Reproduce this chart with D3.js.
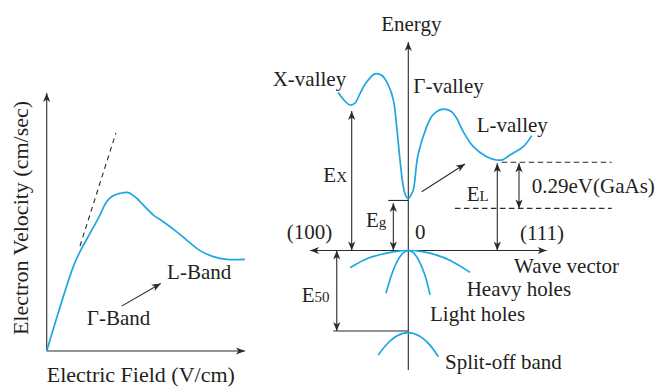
<!DOCTYPE html>
<html>
<head>
<meta charset="utf-8">
<script src="https://cdn.jsdelivr.net/npm/d3@7"></script>
<style>
  html, body { margin: 0; padding: 0; background: #fff; }
  svg { display: block; }
</style>
</head>
<body>
<svg id="chart" width="656" height="389" font-family="'Liberation Serif', 'DejaVu Serif', serif"></svg>
<script>
// ---------- Left panel: drift velocity vs. electric field (schematic units) ----------
const fieldVelocity = [
  [0, 0], [1.34, 3.27], [1.68, 3.85], [2.18, 4.56], [2.60, 5.14], [3.03, 5.79],
  [3.29, 5.99], [3.69, 6.11], [4.11, 6.14], [4.54, 5.92], [4.79, 5.72], [5.38, 5.27],
  [5.88, 5.01], [6.56, 4.62], [7.06, 4.30], [7.73, 3.89], [8.40, 3.66], [9.08, 3.55], [10, 3.55]
];
const lowFieldTangent = [[1.68, 4.07], [3.49, 8.45]];
const gammaToLArrow = [[3.78, 1.74], [5.75, 2.62]];
const fieldDomain = [0, 10];
const velocityDomain = [0, 10];
const leftLabels = [
  { text: "Γ-Band", x: 2.02, y: 1.01 },
  { text: "L-Band", x: 6.07, y: 2.79 }
];

// ---------- Right panel: E–k band diagram (schematic units) ----------
const conductionBand = [
  [-0.506, 0.758], [-0.472, 0.727], [-0.421, 0.698], [-0.385, 0.707], [-0.350, 0.751],
  [-0.306, 0.803], [-0.241, 0.847], [-0.190, 0.839], [-0.145, 0.794], [-0.108, 0.722],
  [-0.084, 0.594], [-0.060, 0.434], [-0.036, 0.306], [-0.017, 0.261], [0, 0.249],
  [0.016, 0.262], [0.036, 0.290], [0.070, 0.458], [0.133, 0.594], [0.171, 0.645],
  [0.205, 0.666], [0.241, 0.677], [0.280, 0.676], [0.316, 0.664], [0.350, 0.634],
  [0.397, 0.570], [0.470, 0.498], [0.566, 0.450], [0.639, 0.434], [0.684, 0.436],
  [0.735, 0.458], [0.831, 0.498], [0.892, 0.551]
];
const heavyHoles = [
  [-0.421, -0.083], [-0.30, -0.040], [-0.20, -0.019], [-0.10, -0.005], [0, 0],
  [0.10, -0.005], [0.20, -0.021], [0.30, -0.047], [0.446, -0.105]
];
const lightHoles = [
  [-0.161, -0.205], [-0.12, -0.115], [-0.08, -0.052], [-0.04, -0.013], [0, 0],
  [0.04, -0.013], [0.08, -0.053], [0.12, -0.118], [0.157, -0.213]
];
const splitOffBand = [
  [-0.217, -0.501], [-0.15, -0.446], [-0.08, -0.409], [0, -0.394],
  [0.08, -0.410], [0.15, -0.449], [0.217, -0.509]
];
const energyAxisExtent = [-0.573, 1];
const waveAxisExtent = [-0.71, 1];
// double-headed energy separations: [k, E from, E to]
const energyGaps = [
  [-0.409, 0, 0.669],   // E_X
  [-0.108, 0, 0.228],   // E_g
  [0.643, 0, 0.418],    // E_L
  [0.800, 0.202, 0.418],// 0.29 eV
  [-0.517, 0, -0.386]   // E_so
];
// reference levels: [k start, k end, E, dashed]
const levelLines = [
  [-0.145, 0, 0.240, false],
  [-0.542, 0, -0.386, false],
  [0.675, 1.47, 0.423, true],
  [0.337, 1.47, 0.202, true]
];
const transferArrow = [[0.097, 0.282], [0.410, 0.415]];
const bandLabels = [
  { text: "X-valley", k: -0.980, E: 0.789 },
  { text: "Γ-valley", k: 0.036, E: 0.754 },
  { text: "L-valley", k: 0.494, E: 0.570 },
  { text: "0", k: 0.048, E: 0.054 },
  { text: "(100)", k: -0.879, E: 0.054 },
  { text: "(111)", k: 0.807, E: 0.050 },
  { text: "0.29eV(GaAs)", k: 0.892, E: 0.277 },
  { text: "Wave vector", k: 0.764, E: -0.109 },
  { text: "Heavy holes", k: 0.422, E: -0.218 },
  { text: "Light holes", k: 0.157, E: -0.338 },
  { text: "Split-off band", k: 0.265, E: -0.568 }
];
const gapLabels = [
  { main: "E", sub: "X", k: -0.614, E: 0.330 },
  { main: "E", sub: "g", k: -0.306, E: 0.111 },
  { main: "E", sub: "L", k: 0.422, E: 0.239 },
  { main: "E", sub: "50", k: -0.770, E: -0.246 }
];

// ---------- drawing ----------
const svg = d3.select("#chart");
const ink = "#2b2b2b";
const textInk = "#231f20";
const blue = "#1ea6e0";

const defs = svg.append("defs");
defs.append("marker")
  .attr("id", "head")
  .attr("viewBox", "-10 -5 11 10")
  .attr("refX", 0).attr("refY", 0)
  .attr("markerWidth", 11).attr("markerHeight", 10)
  .attr("markerUnits", "userSpaceOnUse")
  .attr("orient", "auto-start-reverse")
  .append("path")
  .attr("d", "M0,0 L-9,-3.6 L-6.6,0 L-9,3.6 Z")
  .attr("fill", ink);

function arrow(g, x1, y1, x2, y2, both) {
  const l = g.append("line")
    .attr("x1", x1).attr("y1", y1).attr("x2", x2).attr("y2", y2)
    .attr("stroke", ink).attr("stroke-width", 1.1)
    .attr("marker-end", "url(#head)");
  if (both) l.attr("marker-start", "url(#head)");
  return l;
}

// Left panel
const xF = d3.scaleLinear().domain(fieldDomain).range([46.7, 245]);
const yV = d3.scaleLinear().domain(velocityDomain).range([351, 93]);
const left = svg.append("g").attr("fill", textInk);

arrow(left, xF(0), yV(0), xF(0), yV(velocityDomain[1]), false);
arrow(left, xF(0), yV(0), xF(fieldDomain[1]), yV(0), false);

left.append("path")
  .datum(lowFieldTangent)
  .attr("d", d3.line().x(d => xF(d[0])).y(d => yV(d[1])))
  .attr("fill", "none").attr("stroke", ink).attr("stroke-width", 1.1)
  .attr("stroke-dasharray", "5,4");

left.append("path")
  .datum(fieldVelocity)
  .attr("d", d3.line().x(d => xF(d[0])).y(d => yV(d[1])).curve(d3.curveCatmullRom.alpha(0.5)))
  .attr("fill", "none").attr("stroke", blue).attr("stroke-width", 1.7);

arrow(left, xF(gammaToLArrow[0][0]), yV(gammaToLArrow[0][1]),
      xF(gammaToLArrow[1][0]), yV(gammaToLArrow[1][1]), false);

left.selectAll("text.band").data(leftLabels).join("text")
  .attr("class", "band")
  .attr("x", d => xF(d.x)).attr("y", d => yV(d.y))
  .attr("font-size", 21)
  .text(d => d.text);

left.append("text")
  .attr("transform", `translate(${xF(0) - 18.4},${(yV(0) + yV(velocityDomain[1])) / 2 - 4}) rotate(-90)`)
  .attr("text-anchor", "middle")
  .attr("font-size", 22)
  .text("Electron Velocity (cm/sec)");

left.append("text")
  .attr("x", xF(0)).attr("y", yV(0) + 30.5)
  .attr("font-size", 22)
  .text("Electric Field (V/cm)");

// Right panel
const xK = d3.scaleLinear().domain([0, 1]).range([408.3, 546.7]);
const yE = d3.scaleLinear().domain([0, 1]).range([250.5, 42]);
const right = svg.append("g").attr("fill", textInk);

right.append("line")
  .attr("x1", xK(0)).attr("y1", yE(energyAxisExtent[0]))
  .attr("x2", xK(0)).attr("y2", yE(0))
  .attr("stroke", ink).attr("stroke-width", 1.1);
arrow(right, xK(0), yE(0), xK(0), yE(energyAxisExtent[1]), false);
arrow(right, xK(waveAxisExtent[0]), yE(0), xK(waveAxisExtent[1]), yE(0), true);

right.selectAll("line.level").data(levelLines).join("line")
  .attr("class", "level")
  .attr("x1", d => xK(d[0])).attr("x2", d => xK(d[1]))
  .attr("y1", d => yE(d[2])).attr("y2", d => yE(d[2]))
  .attr("stroke", ink).attr("stroke-width", 1.1)
  .attr("stroke-dasharray", d => d[3] ? "5.5,3.5" : null);

energyGaps.forEach(d => arrow(right, xK(d[0]), yE(d[1]), xK(d[0]), yE(d[2]), true));

arrow(right, xK(transferArrow[0][0]), yE(transferArrow[0][1]),
      xK(transferArrow[1][0]), yE(transferArrow[1][1]), false);

const bandLine = d3.line().x(d => xK(d[0])).y(d => yE(d[1])).curve(d3.curveCatmullRom.alpha(0.5));
right.selectAll("path.band")
  .data([conductionBand, heavyHoles, lightHoles, splitOffBand]).join("path")
  .attr("class", "band")
  .attr("d", bandLine)
  .attr("fill", "none").attr("stroke", blue).attr("stroke-width", 1.7);

right.append("text")
  .attr("x", xK(0) + 3).attr("y", yE(1.054))
  .attr("text-anchor", "middle")
  .attr("font-size", 21)
  .text("Energy");

right.selectAll("text.lbl").data(bandLabels).join("text")
  .attr("class", "lbl")
  .attr("x", d => xK(d.k)).attr("y", d => yE(d.E))
  .attr("font-size", 21)
  .text(d => d.text);

const gl = right.selectAll("text.gap").data(gapLabels).join("text")
  .attr("class", "gap")
  .attr("x", d => xK(d.k)).attr("y", d => yE(d.E))
  .attr("font-size", 21);
gl.append("tspan").text(d => d.main);
gl.append("tspan").attr("font-size", 15).text(d => d.sub);
</script>
</body>
</html>
